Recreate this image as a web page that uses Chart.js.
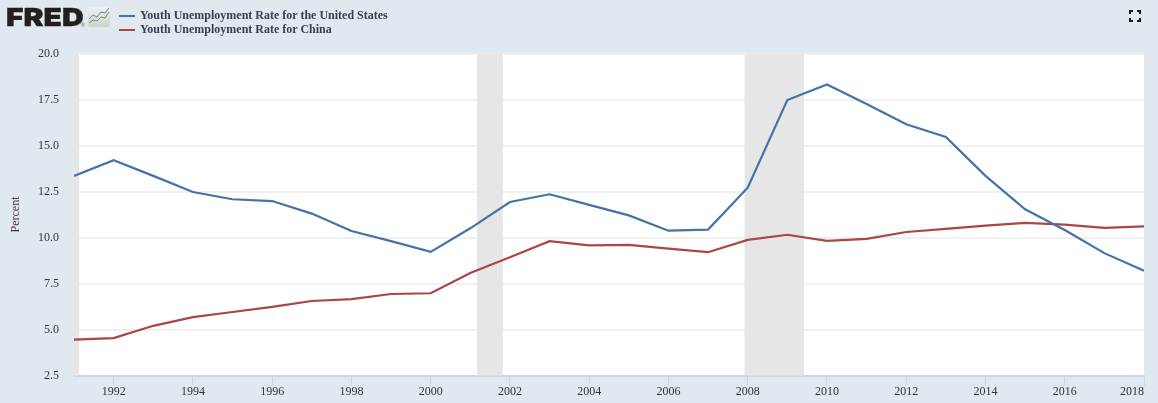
<!DOCTYPE html>
<html>
<head>
<meta charset="utf-8">
<title>Youth Unemployment Rate</title>
<script src="https://cdn.jsdelivr.net/npm/chart.js@4/dist/chart.umd.min.js"></script>
<style>
  html, body { margin: 0; padding: 0; background: #e1e9f0; overflow: hidden; }
  #wrap { position: relative; width: 1158px; height: 403px; }
  #chart { position: absolute; left: 0; top: 0; }
  #logo { position: absolute; left: 6px; top: 0; font: 900 25px/34px Inter, "Liberation Sans", sans-serif; color: #231f20; transform: scaleX(1.2); transform-origin: left; -webkit-text-stroke: 0.4px #231f20; }
  #reg { position: absolute; left: 81px; top: 23px; font: 5px/5px "Liberation Sans", sans-serif; color: #555; }
  #icon { position: absolute; left: 88px; top: 7px; }
  #legend { position: absolute; left: 119px; top: 9px; font: bold 12px/13px "Liberation Serif", serif; color: #3c3c50; }
  #legend div { height: 13.5px; white-space: nowrap; }
  #legend i { display: inline-block; width: 16px; height: 2px; margin-right: 5px; vertical-align: 2px; }
  #full { position: absolute; left: 1129px; top: 10px; }
</style>
</head>
<body>
<div id="wrap">
  <canvas id="chart" width="1158" height="403"></canvas>
  <div id="logo">FRED</div>
  <div id="reg">®</div>
  <svg id="icon" width="22" height="20" viewBox="0 0 22 20">
    <defs><linearGradient id="g" x1="0" y1="0" x2="0" y2="1"><stop offset="0" stop-color="#eef1f1"/><stop offset="1" stop-color="#cfd3cf"/></linearGradient></defs>
    <rect width="22" height="20" rx="2" fill="url(#g)"/>
    <polyline points="1,12 5,8 9,10 13,5 17,6 21,1" fill="none" stroke="#5f86ad" stroke-width="1"/>
    <polyline points="1,16 5,13 9,14 13,10 17,11 21,5" fill="none" stroke="#74983f" stroke-width="1"/>
  </svg>
  <div id="legend">
    <div><i style="background:#4572a7"></i>Youth Unemployment Rate for the United States</div>
    <div><i style="background:#aa4643"></i>Youth Unemployment Rate for China</div>
  </div>
  <svg id="full" width="12" height="12" viewBox="0 0 12 12">
    <path d="M1 4V1H4M8 1H11V4M11 8V11H8M4 11H1V8" fill="none" stroke="#1a1a1a" stroke-width="2"/>
  </svg>
</div>
<script>
const years = [1991,1992,1993,1994,1995,1996,1997,1998,1999,2000,2001,2002,2003,2004,
  2005,2006,2007,2008,2009,2010,2011,2012,2013,2014,2015,2016,2017,2018];
const usValues = [13.35,14.2,13.35,12.47,12.08,11.98,11.3,10.35,9.8,9.22,10.5,11.93,12.35,11.77,
  11.2,10.37,10.43,12.71,17.47,18.32,17.25,16.15,15.46,13.35,11.53,10.41,9.15,8.2];
const chinaValues = [4.45,4.53,5.2,5.67,5.95,6.23,6.55,6.65,6.93,6.97,8.07,8.93,9.8,9.57,
  9.6,9.4,9.2,9.87,10.15,9.82,9.93,10.3,10.47,10.65,10.8,10.7,10.52,10.6];
const recessionStarts = [1990.58, 2001.17, 2007.92];
const recessionEnds = [1991.13, 2001.82, 2009.42];

const axisColor = '#ccd6eb';
const textFont = { family: '"Liberation Serif", serif', size: 12 };

// white plot area and the grey recession bands
const plotBack = {
  id: 'plotBack',
  beforeDraw(chart) {
    const { ctx, chartArea: a } = chart;
    ctx.save();
    ctx.fillStyle = '#ffffff';
    ctx.fillRect(a.left, a.top, a.right - a.left, a.bottom - a.top);
    ctx.restore();
  },
  beforeDatasetsDraw(chart) {
    const { ctx, chartArea: a, scales } = chart;
    ctx.save();
    ctx.fillStyle = '#e6e6e6';
    recessionStarts.forEach((s, i) => {
      const x0 = scales.x.getPixelForValue(Math.max(s, scales.x.min));
      const x1 = scales.x.getPixelForValue(recessionEnds[i]);
      ctx.fillRect(x0, a.top, x1 - x0, a.bottom - a.top);
    });
    ctx.restore();
  }
};

new Chart(document.getElementById('chart'), {
  type: 'line',
  plugins: [plotBack],
  data: {
    labels: years,
    datasets: [
      { label: 'Youth Unemployment Rate for the United States',
        data: years.map((y, i) => ({ x: y, y: usValues[i] })),
        borderColor: '#4572a7', borderWidth: 2.2, pointRadius: 0, tension: 0 },
      { label: 'Youth Unemployment Rate for China',
        data: years.map((y, i) => ({ x: y, y: chinaValues[i] })),
        borderColor: '#aa4643', borderWidth: 2.2, pointRadius: 0, tension: 0 }
    ]
  },
  options: {
    responsive: false,
    animation: false,
    layout: { padding: { top: 53.5, right: 14, left: 0, bottom: 0 } },
    plugins: { legend: { display: false }, tooltip: { enabled: false } },
    scales: {
      x: {
        type: 'linear',
        min: 1991,
        max: 2018,
        afterFit(scale) { scale.height = 27.5; },
        border: { color: axisColor, width: 2 },
        grid: {
          drawOnChartArea: false,
          tickLength: 10,
          tickColor: c => (c.tick && c.tick.value % 2 === 0 ? axisColor : 'transparent')
        },
        ticks: {
          stepSize: 1,
          autoSkip: false,
          maxRotation: 0,
          align: 'inner',
          padding: -1,
          color: '#333333',
          font: textFont,
          callback: v => (v % 2 === 0 ? String(v) : '')
        }
      },
      y: {
        min: 2.5,
        max: 20,
        afterFit(scale) { scale.width = 74; },
        border: { display: false },
        grid: { color: '#f0f0f0', lineWidth: 2, drawTicks: false },
        title: { display: true, text: 'Percent', color: '#4a3438', font: textFont, padding: { top: 9, bottom: 0 } },
        ticks: {
          stepSize: 2.5,
          padding: 15,
          color: '#333333',
          font: textFont,
          callback: v => v.toFixed(1)
        }
      }
    }
  }
});
</script>
</body>
</html>
